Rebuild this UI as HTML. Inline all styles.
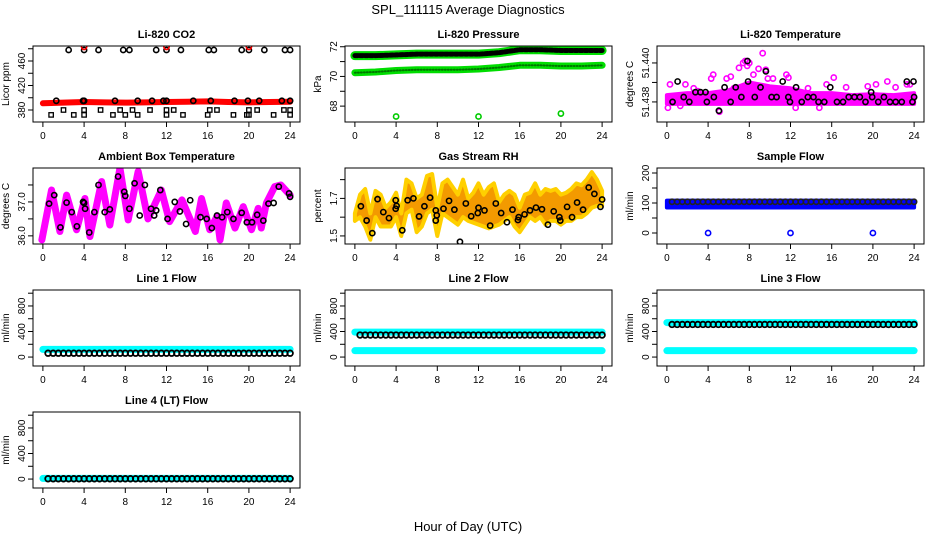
<!DOCTYPE html>
<html><head><meta charset="utf-8"><style>
html,body{margin:0;padding:0;background:#fff;}
svg{display:block;font-family:"Liberation Sans",Arial,sans-serif;}
</style></head><body>
<svg id="chart" width="936" height="540" viewBox="0 0 936 540">
<text x="468" y="14" text-anchor="middle" font-size="13">SPL_111115  Average Diagnostics</text>
<text x="468" y="531" text-anchor="middle" font-size="13">Hour of Day (UTC)</text>
</svg>
<script>
// ---------- data ----------
const xTicks=[0,4,8,12,16,20,24];
// CO2
const co2BandT=[0,2,4,6,8,10,12,14,16,18,20,22,24];
const co2BandV=[391,392,393,392.5,392,392.5,393,393.5,394,393,392.5,393,393.5];
const co2HighT=[2.5,4,5.4,7.8,8.4,11,12,13.4,16.1,16.6,19.3,20,21.5,23.5,24];
const co2HighV=[478,478,478,478,478,478,478,478,478,478,478,478,478,478,478];
const co2RedT=[4,12,20];const co2RedV=[483,483,483];
const co2MidT=[1.3,3.9,4,7,9.2,10.6,11.7,12,14.6,16.3,18.6,19.9,21,23.2,24];
const co2MidV=[395,395,395,395,395,395,395,395,395,395,395,395,395,395,395];
const co2SqT=[0.8,2,3,4,4,5.6,6.8,7.5,8,8.7,9.2,10.4,12,12,12.7,13.6,16,16.2,16.9,18.5,19.8,20,20,20.8,22.4,23.4,24,24];
const co2SqV=[372,380,372,372,380,380,372,380,372,380,372,380,380,372,380,372,372,380,380,372,372,380,372,380,372,380,380,372];
// Pressure
const prBlackT=[0,2,4,6,8,10,12,14,16,18,20,22,24];
const prBlackV=[71.4,71.4,71.45,71.5,71.5,71.5,71.5,71.6,71.8,71.8,71.75,71.75,71.75];
const prGreenT=[0,2,4,6,8,10,12,14,16,18,20,22,24];
const prGreenV=[70.25,70.3,70.4,70.45,70.45,70.45,70.5,70.6,70.75,70.75,70.7,70.7,70.75];
const prOutT=[4,12,20];const prOutV=[67.3,67.3,67.5];
// Li-820 temperature
const ltBandT=[0,2,4,6,8,10,12,14,16,18,20,22,24];
const ltBandLo=[51.4379,51.4379,51.4379,51.4379,51.4379,51.4379,51.4379,51.4379,51.4379,51.4379,51.4379,51.4379,51.4379];
const ltBandHi=[51.43835,51.43845,51.43845,51.4386,51.439,51.4388,51.4387,51.43845,51.43845,51.43835,51.4384,51.43835,51.43845];
const ltMagT=[0.1,0.3,1.3,1.8,2.6,3,4.3,4.5,4.9,5.1,5.8,6.2,6.5,7,7.4,7.6,7.8,8,8.4,8.9,9.3,9.6,9.8,10.3,11.6,11.8,12.5,13.7,14.8,15,15.5,16.2,17.4,19.5,20.3,21.4,22.2,23.3,23.6];
const ltMagV=[51.4377,51.4389,51.4378,51.4389,51.4387,51.43855,51.4392,51.4394,51.4384,51.4375,51.4392,51.4393,51.4387,51.43975,51.44,51.4401,51.43985,51.44,51.4394,51.4397,51.4405,51.43965,51.4392,51.4392,51.4394,51.43925,51.4377,51.4387,51.4377,51.4381,51.4389,51.43925,51.43875,51.4388,51.4389,51.43905,51.43875,51.4389,51.4389];
const ltBlkT=[0.55,1.04,1.63,2.18,2.77,3.26,3.75,3.88,4.56,5.05,5.6,6.19,6.68,7.23,7.82,7.88,8.53,9.09,9.61,10.16,10.65,11.24,11.79,11.95,12.54,13.09,13.68,14.23,14.72,15.28,15.86,16.51,17.1,17.65,18.21,18.73,19.28,19.83,19.93,20.52,21.07,21.66,22.21,22.8,23.29,23.84,23.94,24];
const ltBlkV=[51.438,51.43905,51.43825,51.438,51.4385,51.4385,51.4385,51.438,51.43825,51.43755,51.43875,51.438,51.43875,51.43825,51.4401,51.43905,51.43825,51.43875,51.43957,51.43825,51.43825,51.43905,51.43825,51.438,51.43875,51.438,51.43825,51.43825,51.438,51.438,51.43875,51.438,51.438,51.43825,51.43825,51.43825,51.438,51.4385,51.43825,51.438,51.43825,51.438,51.438,51.438,51.43905,51.438,51.43905,51.43825];
// Ambient box temperature
const abT=[-0.1,0.84,1.65,2.3,3.27,4.08,4.57,5.7,6.5,7.48,8.28,9.25,10.2,11.5,12.3,13.5,14.8,15.4,16.2,16.9,17.2,17.8,18.65,19.45,20.25,20.9,21.2,21.7,22.5,23.1,24];
const abV=[35.88,37.35,36.13,37.2,36.18,37.1,35.98,37.6,36.32,38.0,36.47,37.9,36.5,37.35,36.42,37.06,36.13,37.1,36.18,36.57,35.88,36.97,36.23,36.86,36.18,36.81,36.23,36.97,37.45,37.5,37.2];
const abBlkT=[0.6,1.1,1.7,2.3,2.8,3.3,3.9,4.0,4.1,4.5,5.0,5.4,6.0,6.5,7.3,7.9,8.0,8.4,8.9,9.4,9.9,10.5,10.8,11.0,11.4,12.1,12.8,13.3,13.9,14.3,15.3,15.9,16.4,16.9,17.4,17.9,18.5,19.3,19.8,20.3,20.8,21.4,21.9,22.4,22.9,23.9,24.0];
const abBlkV=[36.95,37.2,36.25,36.98,36.7,36.28,37.0,36.97,36.8,36.1,36.7,37.5,36.7,36.78,37.75,37.3,37.18,36.8,37.55,36.6,37.5,36.8,36.6,36.75,37.35,36.5,37.0,36.72,36.35,37.05,36.55,36.5,36.23,36.6,36.55,36.7,36.5,36.68,36.4,36.4,36.62,36.45,36.95,36.97,37.45,37.25,37.15];
// Gas stream RH
const rhT=[0,0.5,1,1.5,2,2.5,3,3.5,4,4.5,5,5.5,6,6.5,7,7.5,8,8.5,9,9.5,10,10.5,11,11.5,12,12.5,13,13.5,14,14.5,15,15.5,16,16.5,17,17.5,18,18.5,19,19.5,20,20.5,21,21.5,22,22.5,23,23.5,24];
const rhLo=[1.58,1.6,1.55,1.48,1.6,1.55,1.55,1.55,1.6,1.5,1.62,1.64,1.52,1.55,1.62,1.64,1.5,1.62,1.6,1.58,1.56,1.6,1.58,1.57,1.56,1.55,1.54,1.55,1.56,1.58,1.6,1.55,1.52,1.56,1.6,1.58,1.6,1.56,1.58,1.58,1.56,1.58,1.58,1.6,1.6,1.62,1.65,1.66,1.66];
const rhHi=[1.62,1.72,1.75,1.62,1.74,1.72,1.65,1.68,1.73,1.62,1.8,1.78,1.7,1.72,1.82,1.83,1.65,1.78,1.8,1.76,1.72,1.8,1.7,1.73,1.78,1.72,1.76,1.78,1.68,1.72,1.74,1.72,1.65,1.72,1.73,1.78,1.72,1.75,1.74,1.75,1.72,1.73,1.75,1.78,1.77,1.8,1.84,1.8,1.74];
const rhBlkT=[0.58,1.14,1.69,2.2,2.76,3.31,3.96,3.96,4.05,4.6,5.12,5.68,6.23,6.75,7.3,7.85,7.85,7.95,8.6,9.14,9.66,10.2,10.77,11.29,11.93,12,12.58,13.13,13.68,14.2,14.76,15.3,15.83,15.9,16.47,17,17.58,18.16,18.74,19.3,19.85,19.94,20.6,21.08,21.57,22.15,22.7,23.25,23.84,24];
const rhBlkV=[1.658,1.582,1.515,1.696,1.627,1.595,1.69,1.645,1.66,1.53,1.69,1.7,1.604,1.658,1.704,1.636,1.582,1.61,1.645,1.687,1.64,1.469,1.673,1.605,1.622,1.65,1.636,1.555,1.673,1.622,1.573,1.64,1.585,1.6,1.615,1.636,1.651,1.642,1.56,1.631,1.6,1.582,1.655,1.6,1.678,1.64,1.758,1.724,1.655,1.694];
// Flows
const flowT=[0,24];
const sfBandLo=[85,85];const sfBandHi=[108,108];const sfBlack=[104,104];
const sfOutT=[4,12,20];const sfOutV=[0,0,0];
const l1Cyan=[[120,120]];const l1Black=[60,60];
const l2Cyan=[[390,390],[100,100]];const l2Black=[345,345];
const l3Cyan=[[540,540],[100,100]];const l3Black=[510,510];
const l4Cyan=[[10,10]];const l4Black=[5,5];

// ---------- layout ----------
const svg=document.getElementById('chart');
const NS='http://www.w3.org/2000/svg';
const colL=[33,345,657], rowT=[46,168,290,412], PW=267, PH=76;
function mk(tag,attrs,parent){const e=document.createElementNS(NS,tag);for(const k in attrs)e.setAttribute(k,attrs[k]);(parent||svg).appendChild(e);return e;}
function panel(col,row,title,ylab,ylim,ticks,labels,name){
  const L=colL[col],T=rowT[row];
  const g=mk('g',{});
  
  
  const xs=h=>L+PW*(h+0.96)/25.92;
  const ys=v=>T+PH*(ylim[1]-v)/(ylim[1]-ylim[0]);
  const clip=mk('clipPath',{id:'c'+name},g);mk('rect',{x:L,y:T,width:PW,height:PH},clip);
  const data=mk('g',{'clip-path':'url(#c'+name+')'},g);
  
  
  const box=mk('rect',{x:L,y:T,width:PW,height:PH,fill:'none',stroke:'#000','stroke-width':1},g);
  
  
  const t=mk('text',{x:L+PW/2,y:T-8,'text-anchor':'middle','font-size':11,'font-weight':'bold'},g);t.textContent=title;
  
  
  const yl=mk('text',{x:0,y:0,'text-anchor':'middle','font-size':10,transform:'translate('+(L-24)+','+(T+PH/2)+') rotate(-90)'},g);yl.textContent=ylab;
  
  
  xTicks.forEach(h=>{const x=xs(h);mk('line',{x1:x,x2:x,y1:T+PH,y2:T+PH+5,stroke:'#000'},g);
    const tx=mk('text',{x:x,y:T+PH+17,'text-anchor':'middle','font-size':10},g);tx.textContent=h;
    
    });
  ticks.forEach((v,i)=>{const y=ys(v);if(y<T-2||y>T+PH+2)return;mk('line',{x1:L,x2:L-5,y1:y,y2:y,stroke:'#000'},g);
    if(labels[i]){const tx=mk('text',{x:0,y:0,'text-anchor':'middle','font-size':10,transform:'translate('+(L-8)+','+y+') rotate(-90)'},g);tx.textContent=labels[i];
      
      }});
  return {xs,ys,g:data};
}
function pts(p,T,V,col,shape,r,sw){T.forEach((t,i)=>{let e;
  if(shape==='sq')e=mk('rect',{x:p.xs(t)-r,y:p.ys(V[i])-r,width:2*r,height:2*r,fill:'none',stroke:col,'stroke-width':sw||1.6},p.g);
  else e=mk('circle',{cx:p.xs(t),cy:p.ys(V[i]),r:r||2.6,fill:'none',stroke:col,'stroke-width':sw||1.6},p.g);
  
  });}
function line(p,T,V,col,w,dash){const e=mk('polyline',{points:T.map((t,i)=>p.xs(t)+','+p.ys(V[i])).join(' '),fill:'none',stroke:col,'stroke-width':w,'stroke-linejoin':'round','stroke-linecap':'round'},p.g);
  if(dash)e.setAttribute('stroke-dasharray',dash);
  
  return e;}
function band(p,T,Lo,Hi,fill,stroke){const d=T.map((t,i)=>p.xs(t)+','+p.ys(Hi[i])).concat(T.slice().reverse().map((t,j)=>{const i=T.length-1-j;return p.xs(t)+','+p.ys(Lo[i]);})).join(' ');
  const e=mk('polygon',{points:d,fill:fill,stroke:stroke,'stroke-width':4,'stroke-linejoin':'round'},p.g);
  
  }
function evenT(a,b,s){const r=[];for(let t=a;t<=b+1e-9;t+=s)r.push(+t.toFixed(3));return r;}

// CO2
let p=panel(0,0,'Li-820 CO2','Licor ppm',[360.4,484.5],[380,400,420,440,460,480],['380','','420','','460',''],'co2');
line(p,co2BandT,co2BandV,'#f00',6);
pts(p,co2HighT,co2HighV,'#000');pts(p,co2RedT,co2RedV,'#f00');pts(p,co2MidT,co2MidV,'#000');pts(p,co2SqT,co2SqV,'#000','sq',2.2,1.3);
// Pressure
p=panel(1,0,'Li-820 Pressure','kPa',[66.93,72.05],[68,69,70,71,72],['68','','70','','72'],'pressure');
line(p,prGreenT,prGreenV,'#0d0',7);line(p,prGreenT,prGreenV,'#070',2,'1 2');
line(p,prBlackT,prBlackV,'#0d0',9);line(p,prBlackT,prBlackV,'#000',5,'3 2');
pts(p,prOutT,prOutV,'#0c0');
// Li-820 Temperature
p=panel(2,0,'Li-820 Temperature','degrees C',[51.43697,51.44087],[51.438,51.439,51.44],['51.438','','51.440'],'li820-temp');
band(p,ltBandT,ltBandLo,ltBandHi,'#f0f','#f0f');
pts(p,ltMagT,ltMagV,'#f0f');pts(p,ltBlkT,ltBlkV,'#000');
// Ambient
p=panel(0,1,'Ambient Box Temperature','degrees C',[35.76,38.0],[36,36.5,37,37.5],['36.0','','37.0',''],'ambient-temp');
line(p,abT,abV,'#f0f',7);pts(p,abBlkT,abBlkV,'#000');
// RH
p=panel(1,1,'Gas Stream RH','percent',[1.457,1.862],[1.5,1.6,1.7,1.8],['1.5','','1.7',''],'rh');
band(p,rhT,rhLo,rhHi,'#f39a00','#ffd000');
pts(p,rhBlkT,rhBlkV,'#000');
// Sample flow
p=panel(2,1,'Sample Flow','ml/min',[-36.7,216.7],[0,50,100,150,200],['0','','100','','200'],'sample-flow');
band(p,flowT,sfBandLo,sfBandHi,'#00f','#00f');
pts(p,evenT(0.5,24,0.5),evenT(0.5,24,0.5).map(()=>sfBlack[0]),'#222');
pts(p,sfOutT,sfOutV,'#00f');
// Line flows
const ft=[0,200,400,600,800,1000],fl=['0','','400','','800',''];
function flowPanel(c,r,title,name,cy,bk){const q=panel(c,r,title,'ml/min',[-140,1050],ft,fl,name);
  cy.forEach(v=>line(q,flowT,v,'#0ff',7));
  const bt=evenT(0.5,24,0.5);pts(q,bt,bt.map(()=>bk[0]),'#000','c',2.8,1.8);}
flowPanel(0,2,'Line 1 Flow','line1-flow',l1Cyan,l1Black);
flowPanel(1,2,'Line 2 Flow','line2-flow',l2Cyan,l2Black);
flowPanel(2,2,'Line 3 Flow','line3-flow',l3Cyan,l3Black);
flowPanel(0,3,'Line 4 (LT) Flow','line4-flow',l4Cyan,l4Black);
</script>
</body></html>
